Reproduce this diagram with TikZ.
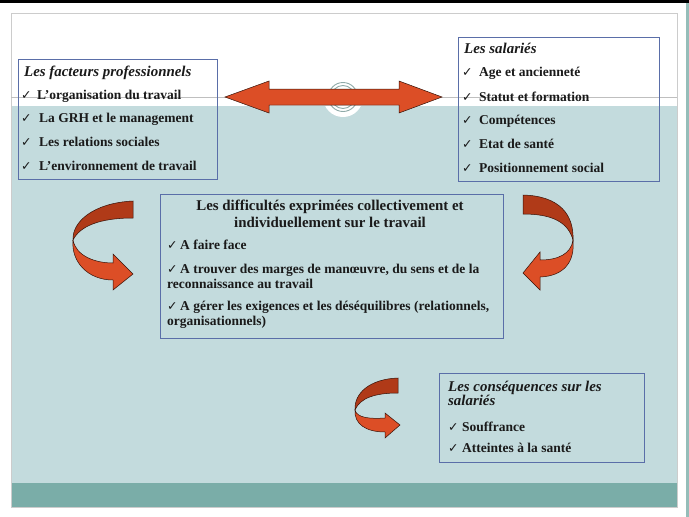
\documentclass[tikz,border=0pt]{standalone}
\usepackage{fontspec}
\setmainfont{Liberation Serif}
\newfontfamily\chkfont{DejaVu Sans}
\newcommand{\ck}[1][17pt]{\makebox[#1][l]{\chkfont\fontsize{12.5}{10}\selectfont ✓}}
\definecolor{bgblue}{HTML}{C3DBDD}
\definecolor{teal}{HTML}{7AADA8}
\definecolor{boxblue}{HTML}{5A6EA8}
\definecolor{arrlight}{HTML}{DC4E26}
\definecolor{arrdark}{HTML}{B03A18}
\definecolor{txt}{HTML}{1A1A1A}
\definecolor{ring}{HTML}{8FAAA8}
\tikzset{
  frame/.style={draw=boxblue, line width=0.8pt},
  txtline/.style={anchor=base west, inner sep=0pt, text=txt, font=\fontsize{13.5}{15}\selectfont\bfseries},
  ctrline/.style={anchor=base, inner sep=0pt, text=txt, font=\fontsize{14.9}{16}\selectfont\bfseries},
  ttl/.style={txtline, font=\fontsize{14.9}{16}\selectfont\bfseries\itshape},
  arrlt/.style={fill=arrlight, draw=black!70!arrdark, line width=0.5pt},
  arrdk/.style={fill=arrdark, draw=black!70!arrdark, line width=0.5pt},
}
\begin{document}
\begin{tikzpicture}[x=1pt,y=-1pt]
\useasboundingbox (0,0) rectangle (689,517);
% background
\fill[white] (0,0) rectangle (689,517);
\fill[black] (0,0) rectangle (689,3);
\fill[teal!80] (686,3) rectangle (689,517);
\fill[bgblue] (11,106) rectangle (677,483);
\fill[teal] (11,483) rectangle (677,507);
\draw[black!20, line width=0.6pt] (11,13) rectangle (677,507);
\draw[black!25, line width=0.5pt] (11,97) -- (677,97);
% ornament
\fill[white] (343,97) circle (20);
\draw[ring, line width=0.9pt] (343,97) circle (14.5);
\draw[ring, line width=0.9pt] (343,97) circle (11.5);
% double arrow
\draw[arrlt] (225,97) -- (269,81) -- (269,89) -- (399,89) -- (399,81) -- (442,97)
  -- (399,113) -- (399,105) -- (269,105) -- (269,113) -- cycle;
% boxes
\node[frame, inner sep=0pt, minimum width=199pt, minimum height=120pt] (bfact) at (117.5,119) {};
\node[frame, inner sep=0pt, minimum width=201pt, minimum height=144pt] (bsal) at (558.5,109) {};
\node[frame, inner sep=0pt, minimum width=343pt, minimum height=144pt] (bdiff) at (331.5,266) {};
\node[frame, inner sep=0pt, minimum width=205pt, minimum height=89pt] (bcons) at (541.5,417.5) {};
% box 1 text
\node[ttl] (f0) at (24,76) {Les facteurs professionnels};
\node[txtline] (f1) at (21,99) {\ck[16pt]L’organisation du travail};
\node[txtline] (f2) at (21,122) {\ck[18pt]La GRH et le management};
\node[txtline] (f3) at (21,146) {\ck[18pt]Les relations sociales};
\node[txtline] (f4) at (21,170) {\ck[18pt]L’environnement de travail};
% box 2 text
\node[ttl] (s0) at (464,53) {Les salariés};
\node[txtline] (s1) at (462,76) {\ck Age et ancienneté};
\node[txtline] (s2) at (462,101) {\ck Statut et formation};
\node[txtline] (s3) at (462,124) {\ck Compétences};
\node[txtline] (s4) at (462,148) {\ck Etat de santé};
\node[txtline] (s5) at (462,172) {\ck Positionnement social};
% central text
\node[ctrline] (d0) at (330,210) {Les difficultés exprimées collectivement et};
\node[ctrline] (d1) at (330,227) {individuellement sur le travail};
\node[txtline] (d2) at (167,249) {\ck[13pt]A faire face};
\node[txtline] (d3) at (167,273) {\ck[13pt]A trouver des marges de manœuvre, du sens et de la};
\node[txtline] (d4) at (167,288) {reconnaissance au travail};
\node[txtline] (d5) at (167,310) {\ck[13pt]A gérer les exigences et les déséquilibres (relationnels,};
\node[txtline] (d6) at (167,325) {organisationnels)};
% consequences text
\node[ttl] (c0) at (448,391) {Les conséquences sur les};
\node[ttl] (c1) at (448,405) {salariés};
\node[txtline] (c2) at (448,431) {\ck[14pt]Souffrance};
\node[txtline] (c3) at (448,452) {\ck[14pt]Atteintes à la santé};
% left curved arrow
\draw[arrdk] (133,201) .. controls (93,203) and (72,222) .. (73,240)
  .. controls (80,226) and (100,218) .. (133,218) -- cycle;
\draw[arrlt] (73,240) .. controls (76,256) and (95,263) .. (113,263) -- (113,254) -- (133,274)
  -- (113,290) -- (113,280) .. controls (88,280) and (71,262) .. (73,240) -- cycle;
% right curved arrow
\draw[arrdk] (523,195) .. controls (560,196) and (574,215) .. (573,240)
  .. controls (568,222) and (552,214) .. (523,214) -- cycle;
\draw[arrlt] (573,240) .. controls (571,254) and (558,260) .. (540,260) -- (540,252) -- (523,273)
  -- (540,290) -- (540,277) .. controls (564,276) and (575,262) .. (573,240) -- cycle;
% bottom curved arrow
\draw[arrdk] (398,378) .. controls (370,379) and (354,393) .. (355,410)
  .. controls (360,398) and (375,393) .. (398,393) -- cycle;
\draw[arrlt] (355,410) .. controls (357,418) and (370,419) .. (385,418) -- (385,413) -- (400,425)
  -- (385,438) -- (385,432) .. controls (366,432) and (354,424) .. (355,410) -- cycle;
\end{tikzpicture}
\end{document}
